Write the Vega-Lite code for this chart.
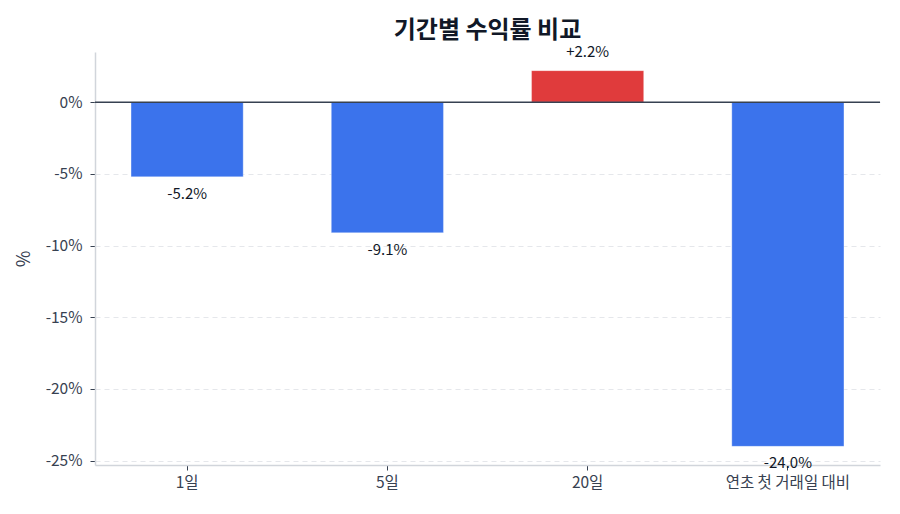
{
  "$schema": "https://vega.github.io/schema/vega-lite/v6.json",
  "autosize": {"type": "none"},
  "width": 785,
  "height": 413,
  "padding": {"left": 95, "top": 52, "right": 20, "bottom": 49},
  "background": "white",
  "config": {
    "font": "Noto Sans CJK KR",
    "view": {"stroke": null},
    "axis": {"labelFont": "Noto Sans CJK KR", "titleFont": "Noto Sans CJK KR"}
  },
  "title": {
    "text": "기간별 수익률 비교",
    "fontSize": 24,
    "fontWeight": "bold",
    "color": "#111827",
    "offset": 2,
    "font": "Noto Sans CJK KR"
  },
  "data": {
    "values": [
      {"period": "1일", "ret": -5.2, "label": "-5.2%", "sign": "neg"},
      {"period": "5일", "ret": -9.1, "label": "-9.1%", "sign": "neg"},
      {"period": "20일", "ret": 2.2, "label": "+2.2%", "sign": "pos"},
      {"period": "연초 첫 거래일 대비", "ret": -24.0, "label": "-24.0%", "sign": "neg"}
    ]
  },
  "encoding": {
    "x": {
      "field": "period",
      "type": "nominal",
      "sort": null,
      "scale": {"paddingInner": 0.44, "paddingOuter": 0.18},
      "axis": {
        "title": null,
        "labelAngle": 0,
        "labelFontSize": 15.5,
        "labelColor": "#374151",
        "labelPadding": 5,
        "domainColor": "#d1d5db",
        "domainWidth": 1.5,
        "tickColor": "#374151",
        "tickSize": 5
      }
    },
    "y": {
      "field": "ret",
      "type": "quantitative",
      "scale": {"domain": [-25.3, 3.5], "nice": false, "zero": false},
      "axis": {
        "title": "%",
        "titleFontSize": 18,
        "titleFontWeight": "normal",
        "titleColor": "#374151",
        "titlePadding": 12,
        "values": [0, -5, -10, -15, -20, -25],
        "labelExpr": "datum.value + '%'",
        "labelFontSize": 15.5,
        "labelColor": "#374151",
        "labelPadding": 8,
        "domainColor": "#d1d5db",
        "domainWidth": 1.5,
        "tickColor": "#374151",
        "tickSize": 5,
        "grid": true,
        "gridColor": "#e5e7eb",
        "gridDash": [5, 4],
        "gridWidth": 1
      }
    }
  },
  "layer": [
    {
      "mark": {"type": "bar", "stroke": "#ffffff", "strokeOpacity": 0.3, "strokeWidth": 1},
      "encoding": {
        "y2": {"datum": 0},
        "color": {
          "field": "sign",
          "type": "nominal",
          "scale": {"domain": ["neg", "pos"], "range": ["#3b73ec", "#e03b3c"]},
          "legend": null
        }
      }
    },
    {
      "data": {"values": [{"zero": 0}]},
      "mark": {"type": "rule", "color": "#374151", "strokeWidth": 1.5},
      "encoding": {"y": {"field": "zero", "type": "quantitative"}, "x": null}
    },
    {
      "transform": [{"filter": "datum.sign == 'neg'"}],
      "mark": {"type": "text", "baseline": "middle", "dy": 17, "fontSize": 15, "color": "#111827"},
      "encoding": {"text": {"field": "label"}}
    },
    {
      "transform": [{"filter": "datum.sign == 'pos'"}],
      "mark": {"type": "text", "baseline": "middle", "dy": -19, "fontSize": 15, "color": "#111827"},
      "encoding": {"text": {"field": "label"}}
    }
  ]
}
